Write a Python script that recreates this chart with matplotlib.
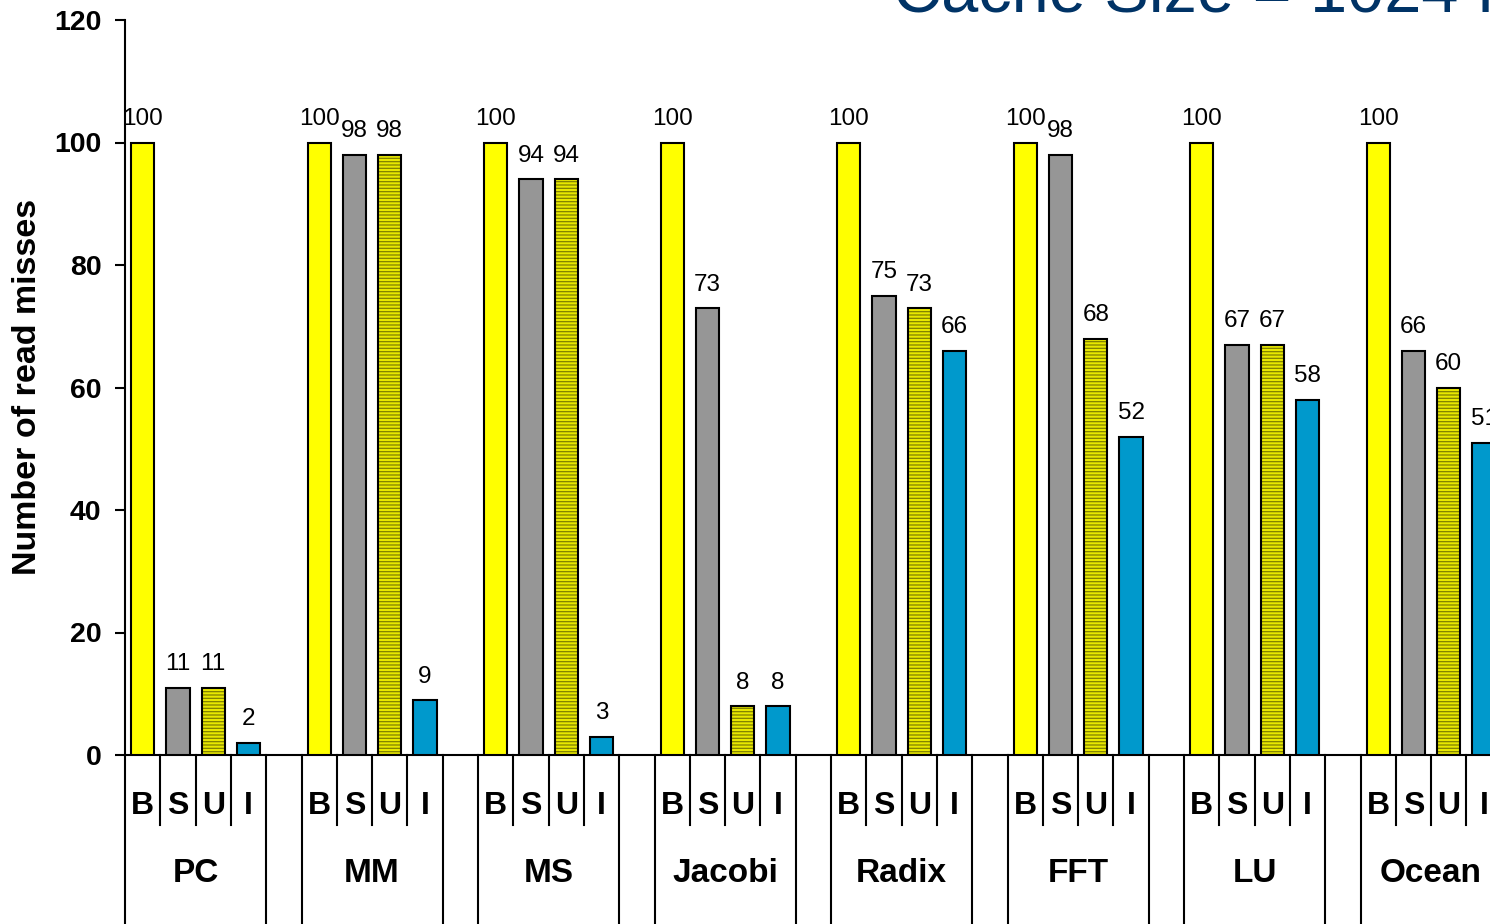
import matplotlib

matplotlib.use("Agg")

import matplotlib.pyplot as plt

plt.rcParams["font.family"] = ["Liberation Sans", "DejaVu Sans"]
plt.rcParams["hatch.linewidth"] = 0.9

benchmarks = ["PC", "MM", "MS", "Jacobi", "Radix", "FFT", "LU", "Ocean"]
schemes = ["B", "S", "U", "I"]
b_vals = [100, 100, 100, 100, 100, 100, 100, 100]
s_vals = [11, 98, 94, 73, 75, 98, 67, 66]
u_vals = [11, 98, 94, 8, 73, 68, 67, 60]
i_vals = [2, 9, 3, 8, 66, 52, 58, 51]

YELLOW = "#FFFF00"
GRAY = "#969696"
OLIVE_FACE = "#E8E800"
OLIVE_LINE = "#808000"
BLUE = "#0099CC"
NAVY = "#003366"

W, H = 1490, 924
fig = plt.figure(figsize=(W / 100, H / 100), dpi=100)
# axes run past the right edge of the figure, as in the original slide
ax = fig.add_axes([125 / W, (H - 755) / H, 1412 / W, 735 / H])
ax.set_xlim(0, 40)
ax.set_ylim(0, 120)

slot = 5
bw = 0.66
colors = [YELLOW, GRAY, OLIVE_FACE, BLUE]
for k, vals in enumerate([b_vals, s_vals, u_vals, i_vals]):
    xs = [g * slot + k + 0.5 for g in range(len(benchmarks))]
    if k == 2:
        # fine horizontal stripes, then a black outline on top
        ax.bar(xs, vals, width=bw, color=OLIVE_FACE, edgecolor=OLIVE_LINE,
               hatch="-----", linewidth=0, zorder=2)
        ax.bar(xs, vals, width=bw, fill=False, edgecolor="black", linewidth=1.5, zorder=3)
    else:
        ax.bar(xs, vals, width=bw, color=colors[k], edgecolor="black",
               linewidth=1.5, zorder=3)
    for x, v in zip(xs, vals):
        ax.annotate(str(v), (x, v), xytext=(0, 12.5), textcoords="offset points",
                    ha="center", va="baseline", fontsize=17.5, annotation_clip=False)

for s in ["top", "right"]:
    ax.spines[s].set_visible(False)
for s in ["left", "bottom"]:
    ax.spines[s].set_linewidth(1.5)

ax.set_yticks(range(0, 121, 20))
ax.tick_params(axis="y", direction="out", length=7, width=1.5, pad=10, labelsize=20.5)
for lbl in ax.get_yticklabels():
    lbl.set_fontweight("bold")
ax.tick_params(axis="x", bottom=False, labelbottom=False)

# category table under the axis
tr = ax.get_xaxis_transform()
y_short = -70 / 735
y_long = -175 / 735
for g, name in enumerate(benchmarks):
    x0 = g * slot
    ax.plot([x0, x0], [0, y_long], transform=tr, color="black", lw=1.5, clip_on=False)
    ax.plot([x0 + 4, x0 + 4], [0, y_long], transform=tr, color="black", lw=1.5, clip_on=False)
    for k in range(1, 4):
        ax.plot([x0 + k, x0 + k], [0, y_short], transform=tr, color="black", lw=1.5, clip_on=False)
    for k, sc in enumerate(schemes):
        ax.text(x0 + k + 0.5, -51 / 735, sc, transform=tr, ha="center", va="center",
                fontsize=23, fontweight="bold", clip_on=False)
    ax.text(x0 + 2, -119 / 735, name, transform=tr, ha="center", va="center",
            fontsize=24, fontweight="bold", clip_on=False)

fig.text(28 / W, 1 - 387 / H, "Number of read misses", rotation=90, ha="center",
         va="center", fontsize=24.5, fontweight="bold")

# slide title, mostly cut off at the top
fig.text(893 / W, 1 - 12 / H, "Cache Size = 1024 KB", ha="left", va="baseline",
         fontsize=48, color=NAVY)

fig.savefig("out.png", dpi=100)
